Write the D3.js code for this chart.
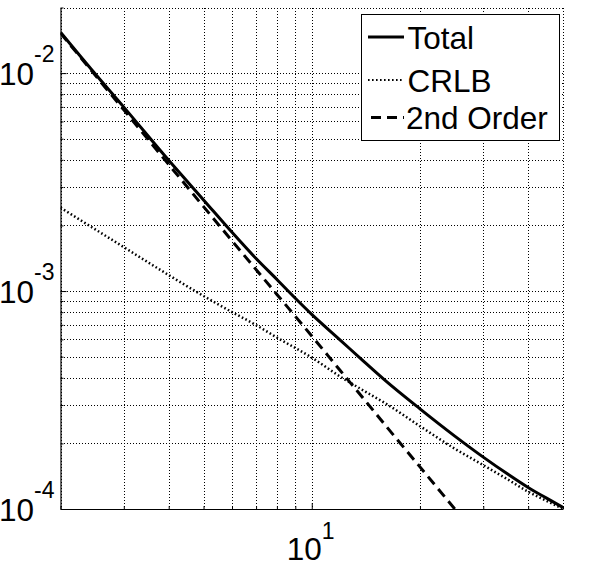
<!DOCTYPE html>
<html>
<head>
<meta charset="utf-8">
<script src="https://cdn.jsdelivr.net/npm/d3@7"></script>
<style>
  body { margin: 0; background: #fff; }
  text { font-family: "Liberation Sans", Arial, sans-serif; fill: #000; }
</style>
</head>
<body>
<svg id="chart"></svg>
<script>
// Values (x is N, y is error).
let nTotal = [2, 2.5, 3, 4, 5, 6, 7, 8, 9, 10, 12, 14, 16, 20, 25, 30, 35, 40, 45, 50];
let totalValues = [0.0154, 0.0099, 0.00698, 0.00398, 0.00262, 0.00186, 0.00141, 0.00113, 0.000927, 0.000782,
                   0.000596, 0.000473, 0.000389, 0.000288, 0.000216, 0.000173, 0.000145, 0.0001255, 0.0001122, 0.0001016];

let nCrlb = [2, 3, 4, 5, 6, 7, 8, 10, 12, 14, 16, 20, 25, 30, 35, 40, 45, 50];
let crlbValues = [0.002414, 0.00159, 0.001184, 0.000949, 0.000801, 0.000698, 0.000612, 0.000495, 0.000405,
                  0.000348, 0.000306, 0.00024, 0.000189, 0.000159, 0.000137, 0.00012, 0.000109, 0.0001];

let nSecond = [2, 3, 4, 5, 6, 8, 10, 12, 14, 16, 20, 25];
let secondValues = [0.01526, 0.00678, 0.00381, 0.00244, 0.0017, 0.000965, 0.000622, 0.000432, 0.000318,
                    0.000243, 0.000156, 0.0001];

let xGridValues = [2, 3, 4, 5, 6, 7, 8, 9, 10, 20, 30, 40, 50];
let yGridValues = [1e-4, 2e-4, 3e-4, 4e-4, 5e-4, 6e-4, 7e-4, 8e-4, 9e-4,
                   1e-3, 2e-3, 3e-3, 4e-3, 5e-3, 6e-3, 7e-3, 8e-3, 9e-3, 1e-2, 2e-2];
let xTickLabels = [{ value: 10, base: "10", exp: "1" }];
let yTickLabels = [
  { value: 1e-2, base: "10", exp: "-2" },
  { value: 1e-3, base: "10", exp: "-3" },
  { value: 1e-4, base: "10", exp: "-4" }
];

let seriesNames = ["Total", "CRLB", "2nd Order"];

let width = 594, height = 567;
let svg = d3.select("#chart")
  .attr("width", width)
  .attr("height", height)
  .attr("viewBox", [0, 0, width, height]);

svg.append("rect").attr("width", width).attr("height", height).attr("fill", "#fff");

let x = d3.scaleLog().domain([2, 50]).range([60.5, 563]);
let y = d3.scaleLog().domain([1e-4, 2e-2]).range([509, 7.5]);

// Grid lines (dotted).
let grid = svg.append("g")
  .attr("stroke", "#000")
  .attr("stroke-width", 1)
  .attr("stroke-dasharray", "1,2")
  .attr("shape-rendering", "crispEdges");

grid.selectAll("line.gx").data(xGridValues).join("line")
  .attr("class", "gx")
  .attr("x1", (d) => Math.round(x(d)) + 0.5)
  .attr("x2", (d) => Math.round(x(d)) + 0.5)
  .attr("y1", Math.round(y(2e-2)))
  .attr("y2", y(1e-4));

grid.selectAll("line.gy").data(yGridValues).join("line")
  .attr("class", "gy")
  .attr("y1", (d) => Math.round(y(d)) + 0.5)
  .attr("y2", (d) => Math.round(y(d)) + 0.5)
  .attr("x1", Math.round(x(2)))
  .attr("x2", x(50) + 1);

// Clip for the curves.
svg.append("clipPath").attr("id", "plot-clip")
  .append("rect")
  .attr("x", x(2)).attr("y", y(2e-2))
  .attr("width", x(50) - x(2)).attr("height", y(1e-4) - y(2e-2));

let line = d3.line()
  .x((d) => x(d[0]))
  .y((d) => y(d[1]))
  .curve(d3.curveMonotoneX);

let curves = svg.append("g").attr("clip-path", "url(#plot-clip)").attr("fill", "none").attr("stroke", "#000");

curves.append("path")
  .attr("d", line(d3.zip(nCrlb, crlbValues)))
  .attr("stroke-width", 2.5)
  .attr("stroke-dasharray", "1.6,2.4");

curves.append("path")
  .attr("d", line(d3.zip(nSecond, secondValues)))
  .attr("stroke-width", 3)
  .attr("stroke-dasharray", "10,6");

curves.append("path")
  .attr("d", line(d3.zip(nTotal, totalValues)))
  .attr("stroke-width", 3);

// Axes: left and bottom only, ticks pointing inward.
let yAxis = d3.axisRight(y)
  .tickValues(yGridValues)
  .tickSize(0)
  .tickFormat("");
let yAxisG = svg.append("g").attr("transform", "translate(" + (x(2)) + ",0)").call(yAxis);
yAxisG.select(".domain").attr("stroke", "#000").attr("stroke-width", 1.2);
yAxisG.selectAll(".tick line")
  .attr("stroke", "#000")
  .attr("x2", (d) => [1e-4, 1e-3, 1e-2].includes(d) ? 6 : 3);

let xAxis = d3.axisTop(x)
  .tickValues(xGridValues)
  .tickSize(0)
  .tickFormat("");
let xAxisG = svg.append("g").attr("transform", "translate(0," + y(1e-4) + ")").call(xAxis);
xAxisG.select(".domain").attr("stroke", "#000").attr("stroke-width", 1.2);
xAxisG.selectAll(".tick line")
  .attr("stroke", "#000")
  .attr("y2", (d) => d == 10 ? -6 : -3);

// Tick labels with superscript exponents.
let yLabels = svg.append("g").selectAll("text").data(yTickLabels).join("text")
  .attr("x", -1)
  .attr("y", (d) => y(d.value) + 11.5)
  .style("font-size", "31.5px");
yLabels.append("tspan").text((d) => d.base);
yLabels.append("tspan").attr("dy", -23).style("font-size", "23px").text((d) => d.exp);

let xLabels = svg.append("g").selectAll("text").data(xTickLabels).join("text")
  .attr("x", (d) => x(d.value) - 25)
  .attr("y", 560)
  .style("font-size", "31.5px");
xLabels.append("tspan").text((d) => d.base);
xLabels.append("tspan").attr("dy", -21).style("font-size", "23px").text((d) => d.exp);

// Legend.
let legend = svg.append("g");
legend.append("rect")
  .attr("x", 361.5).attr("y", 14.5)
  .attr("width", 198).attr("height", 126)
  .attr("fill", "#fff")
  .attr("stroke", "#000")
  .attr("stroke-width", 1);

let legendStyles = [
  { width: 3, dash: null },
  { width: 2, dash: "1.6,2.4" },
  { width: 3, dash: "10,6" }
];
let legendRowY = [37, 80, 117.5];

let rows = legend.selectAll("g.row").data(seriesNames).join("g").attr("class", "row")
  .attr("transform", (d, i) => "translate(0," + legendRowY[i] + ")");

rows.append("line")
  .attr("x1", (d, i) => i == 2 ? 371 : 368)
  .attr("x2", 404)
  .attr("stroke", "#000")
  .attr("stroke-width", (d, i) => legendStyles[i].width)
  .attr("stroke-dasharray", (d, i) => legendStyles[i].dash);

rows.append("text")
  .attr("x", (d, i) => i == 2 ? 406 : 407.5)
  .attr("y", 11.5)
  .style("font-size", "31.5px")
  .text((d) => d);
</script>
</body>
</html>
